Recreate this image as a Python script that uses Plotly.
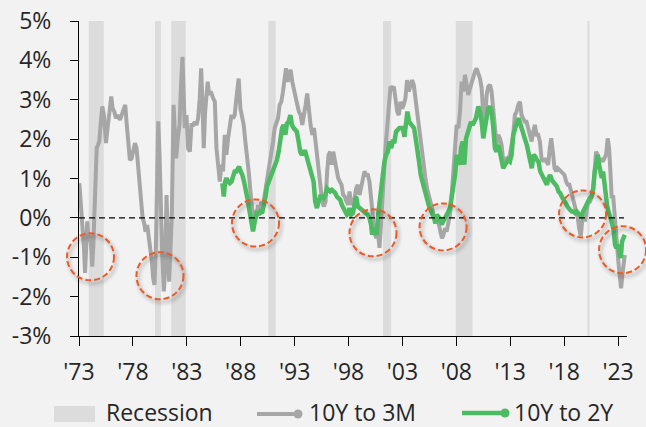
import plotly.graph_objects as go

# ---------------- data ----------------
recession_start = [1973.9, 1980.05, 1981.55, 1990.55, 2001.2, 2007.95, 2020.15]
recession_end = [1975.3, 1980.6, 1982.9, 1991.25, 2001.95, 2009.5, 2020.35]

spread_3m_year = [
    1973.03, 1973.12, 1973.22, 1973.34, 1973.46, 1973.56, 1973.65, 1973.77, 1973.90, 1974.02,
    1974.14, 1974.23, 1974.33, 1974.42, 1974.51, 1974.64, 1974.76, 1974.88, 1975.00, 1975.16,
    1975.31, 1975.50, 1975.65, 1975.84, 1975.99, 1976.12, 1976.27, 1976.43, 1976.61, 1976.80,
    1976.98, 1977.17, 1977.29, 1977.41, 1977.57, 1977.72, 1977.88, 1978.03, 1978.19, 1978.34,
    1978.46, 1978.59, 1978.74, 1978.90, 1979.05, 1979.17, 1979.33, 1979.48, 1979.64, 1979.76,
    1979.88, 1980.00, 1980.13, 1980.25, 1980.35, 1980.47, 1980.59, 1980.72, 1980.87, 1980.99,
    1981.12, 1981.24, 1981.36, 1981.49, 1981.61, 1981.77, 1981.89, 1982.01, 1982.17, 1982.32,
    1982.48, 1982.60, 1982.72, 1982.81, 1982.97, 1983.12, 1983.28, 1983.43, 1983.59, 1983.74,
    1983.90, 1984.05, 1984.20, 1984.33, 1984.45, 1984.57, 1984.70, 1984.82, 1984.94, 1985.07,
    1985.22, 1985.44, 1985.60, 1985.75, 1985.90, 1986.06, 1986.21, 1986.36, 1986.52, 1986.67,
    1986.83, 1986.98, 1987.14, 1987.29, 1987.44, 1987.60, 1987.81, 1987.97, 1988.12, 1988.28,
    1988.43, 1988.59, 1988.74, 1988.90, 1989.05, 1989.17, 1989.30, 1989.45, 1989.60, 1989.76,
    1989.91, 1990.07, 1990.22, 1990.38, 1990.53, 1990.69, 1990.84, 1991.00, 1991.15, 1991.30,
    1991.46, 1991.61, 1991.77, 1991.92, 1992.07, 1992.20, 1992.35, 1992.48, 1992.63, 1992.78,
    1992.94, 1993.09, 1993.25, 1993.40, 1993.56, 1993.71, 1993.86, 1994.02, 1994.17, 1994.33,
    1994.48, 1994.64, 1994.79, 1994.94, 1995.10, 1995.25, 1995.41, 1995.56, 1995.72, 1995.87,
    1996.02, 1996.15, 1996.30, 1996.43, 1996.58, 1996.73, 1996.89, 1997.04, 1997.20, 1997.35,
    1997.51, 1997.66, 1997.81, 1997.97, 1998.09, 1998.25, 1998.40, 1998.56, 1998.71, 1998.86,
    1999.02, 1999.17, 1999.33, 1999.48, 1999.64, 1999.79, 1999.94, 2000.10, 2000.25, 2000.41,
    2000.56, 2000.72, 2000.87, 2000.99, 2001.12, 2001.27, 2001.43, 2001.58, 2001.73, 2001.89,
    2002.04, 2002.20, 2002.35, 2002.51, 2002.66, 2002.82, 2002.97, 2003.12, 2003.28, 2003.43,
    2003.59, 2003.74, 2003.90, 2004.05, 2004.20, 2004.36, 2004.51, 2004.67, 2004.82, 2004.98,
    2005.13, 2005.28, 2005.44, 2005.59, 2005.75, 2005.90, 2006.06, 2006.21, 2006.36, 2006.52,
    2006.67, 2006.80, 2006.95, 2007.10, 2007.26, 2007.41, 2007.57, 2007.72, 2007.88, 2008.03,
    2008.19, 2008.34, 2008.49, 2008.65, 2008.80, 2008.96, 2009.11, 2009.27, 2009.42, 2009.57,
    2009.73, 2009.88, 2010.04, 2010.19, 2010.35, 2010.50, 2010.65, 2010.81, 2010.96, 2011.12,
    2011.27, 2011.43, 2011.58, 2011.73, 2011.89, 2012.04, 2012.20, 2012.35, 2012.51, 2012.66,
    2012.81, 2012.97, 2013.12, 2013.28, 2013.43, 2013.59, 2013.74, 2013.90, 2014.05, 2014.20,
    2014.36, 2014.51, 2014.67, 2014.82, 2014.98, 2015.13, 2015.28, 2015.44, 2015.59, 2015.75,
    2015.90, 2016.06, 2016.21, 2016.36, 2016.52, 2016.67, 2016.80, 2016.95, 2017.11, 2017.26,
    2017.41, 2017.57, 2017.72, 2017.88, 2018.03, 2018.19, 2018.34, 2018.49, 2018.65, 2018.80,
    2018.96, 2019.11, 2019.27, 2019.39, 2019.54, 2019.67, 2019.82, 2019.94, 2020.07, 2020.22,
    2020.38, 2020.53, 2020.69, 2020.81, 2020.96, 2021.12, 2021.27, 2021.43, 2021.58, 2021.73,
    2021.89, 2022.04, 2022.17, 2022.29, 2022.41, 2022.54, 2022.66, 2022.78, 2022.91, 2023.03,
    2023.15, 2023.28, 2023.40, 2023.52, 2023.62,
]
spread_3m_value = [
    0.88, 0.58, 0.08, -0.25, -0.77, -1.40, -0.60, -0.09, -0.60, -0.43,
    -0.77, -1.24, -0.69, 0.25, 0.29, 1.77, 1.85, 1.94, 2.36, 2.83,
    2.61, 1.90, 2.28, 2.70, 3.08, 2.78, 2.70, 2.53, 2.61, 2.49,
    2.61, 2.74, 2.87, 2.44, 1.94, 1.47, 1.51, 1.68, 1.90, 1.77,
    1.43, 0.92, 0.41, 0.00, -0.14, -0.35, -0.18, -0.52, -0.69, -1.11,
    -1.53, -1.70, -0.77, 1.77, 2.45, 1.60, 0.08, -0.94, -1.87, -1.28,
    0.58, -0.77, -1.62, -0.77, 0.08, 2.87, 1.94, 1.51, 2.02, 2.36,
    3.46, 4.09, 3.04, 2.28, 2.61, 1.77, 1.68, 2.36, 2.36, 2.44,
    2.36, 2.53, 3.04, 3.80, 2.95, 1.77, 2.70, 3.21, 3.46, 3.12,
    3.21, 3.04, 2.95, 1.77, 1.43, 0.92, 1.35, 1.18, 2.11, 1.60,
    2.02, 2.36, 2.61, 2.53, 2.61, 3.04, 3.54, 2.78, 2.53, 2.36,
    1.94, 1.60, 1.18, 0.67, 0.25, -0.05, 0.20, 0.00, 0.33, 0.08,
    0.41, 0.33, 0.58, 0.84, 1.09, 1.43, 1.60, 1.94, 2.28, 2.44,
    2.53, 2.87, 2.95, 3.21, 3.46, 3.80, 3.46, 3.63, 3.76, 3.46,
    3.21, 3.04, 2.87, 2.70, 2.61, 2.36, 2.70, 2.87, 3.16, 2.70,
    2.36, 2.11, 2.28, 1.94, 1.51, 1.18, 0.75, 0.41, 0.29, 0.41,
    1.18, 1.60, 1.68, 1.35, 1.68, 1.43, 1.18, 1.01, 0.92, 0.84,
    0.58, 0.54, 0.41, 0.33, 0.67, 0.33, 0.41, 0.50, 0.75, 0.84,
    0.58, 0.75, 0.92, 1.18, 1.09, 1.09, 0.92, 0.58, 0.08, -0.35,
    -0.52, -0.35, -0.76, -0.26, 0.41, 1.09, 1.77, 2.28, 2.95, 3.33,
    3.29, 3.33, 3.04, 2.70, 2.61, 2.95, 2.78, 2.87, 3.04, 3.50,
    3.21, 3.33, 3.50, 3.38, 3.04, 2.61, 2.28, 1.94, 1.51, 1.26,
    1.01, 0.75, 0.58, 0.37, 0.16, 0.08, 0.03, -0.08, -0.14, -0.35,
    -0.52, -0.43, -0.26, -0.35, -0.09, 0.08, 0.58, 1.18, 1.60, 2.36,
    2.28, 2.70, 3.46, 3.21, 3.63, 3.38, 3.12, 3.29, 3.46, 3.54,
    3.71, 3.80, 3.67, 3.54, 3.29, 2.61, 2.44, 3.12, 3.33, 3.38,
    3.21, 2.78, 2.19, 1.85, 2.11, 2.02, 1.85, 1.43, 1.35, 1.51,
    1.51, 1.60, 1.85, 2.11, 2.61, 2.70, 2.87, 2.95, 2.61, 2.53,
    2.44, 2.44, 2.28, 2.11, 1.94, 2.19, 2.36, 2.11, 2.11, 1.94,
    1.51, 1.43, 1.51, 1.43, 1.35, 1.77, 2.02, 1.68, 1.26, 1.18,
    1.26, 1.22, 1.18, 1.13, 1.09, 0.92, 0.84, 0.84, 0.67, 0.50,
    0.33, 0.16, 0.00, -0.26, -0.47, -0.09, 0.08, -0.09, 0.16, 0.41,
    0.41, 0.50, 0.67, 1.18, 1.68, 1.60, 1.43, 1.51, 1.43, 1.51,
    1.60, 2.02, 1.77, 1.18, 0.50, 0.58, 0.16, -0.43, -0.94, -1.11,
    -1.45, -1.79, -1.45, -1.02, -0.94,
]

spread_2y_year = [
    1986.30, 1986.43, 1986.55, 1986.67, 1986.83, 1986.98, 1987.14, 1987.29, 1987.44, 1987.60,
    1987.85, 1988.00, 1988.15, 1988.31, 1988.46, 1988.62, 1988.77, 1988.90, 1989.02, 1989.14,
    1989.27, 1989.39, 1989.51, 1989.67, 1989.82, 1989.98, 1990.13, 1990.28, 1990.44, 1990.59,
    1990.75, 1990.90, 1991.06, 1991.21, 1991.36, 1991.52, 1991.67, 1991.83, 1991.98, 1992.14,
    1992.29, 1992.44, 1992.60, 1992.75, 1992.91, 1993.06, 1993.20, 1993.37, 1993.52, 1993.68,
    1993.83, 1993.99, 1994.14, 1994.30, 1994.45, 1994.60, 1994.76, 1994.91, 1995.07, 1995.22,
    1995.38, 1995.53, 1995.69, 1995.84, 1996.00, 1996.15, 1996.30, 1996.46, 1996.61, 1996.77,
    1996.92, 1997.07, 1997.23, 1997.38, 1997.54, 1997.69, 1997.85, 1998.00, 1998.09, 1998.25,
    1998.40, 1998.56, 1998.71, 1998.86, 1999.02, 1999.17, 1999.33, 1999.48, 1999.64, 1999.79,
    1999.94, 2000.10, 2000.19, 2000.35, 2000.50, 2000.62, 2000.75, 2000.87, 2001.03, 2001.18,
    2001.33, 2001.49, 2001.64, 2001.80, 2001.95, 2002.10, 2002.26, 2002.41, 2002.57, 2002.72,
    2002.88, 2003.03, 2003.19, 2003.34, 2003.46, 2003.62, 2003.77, 2003.93, 2004.08, 2004.23,
    2004.39, 2004.54, 2004.70, 2004.85, 2005.01, 2005.16, 2005.31, 2005.47, 2005.62, 2005.78,
    2005.93, 2006.06, 2006.18, 2006.33, 2006.49, 2006.64, 2006.80, 2006.95, 2007.10, 2007.26,
    2007.41, 2007.57, 2007.72, 2007.88, 2008.03, 2008.19, 2008.34, 2008.43, 2008.59, 2008.74,
    2008.90, 2009.05, 2009.20, 2009.36, 2009.51, 2009.67, 2009.82, 2010.04, 2010.19, 2010.35,
    2010.50, 2010.65, 2010.81, 2010.96, 2011.12, 2011.27, 2011.43, 2011.58, 2011.73, 2011.89,
    2012.04, 2012.20, 2012.35, 2012.51, 2012.66, 2012.81, 2012.97, 2013.12, 2013.28, 2013.43,
    2013.59, 2013.77, 2013.93, 2014.08, 2014.23, 2014.39, 2014.54, 2014.70, 2014.85, 2015.00,
    2015.16, 2015.31, 2015.47, 2015.62, 2015.78, 2015.93, 2016.09, 2016.24, 2016.40, 2016.55,
    2016.70, 2016.86, 2017.01, 2017.17, 2017.32, 2017.48, 2017.63, 2017.78, 2017.94, 2018.09,
    2018.25, 2018.40, 2018.56, 2018.71, 2018.86, 2019.02, 2019.17, 2019.33, 2019.48, 2019.60,
    2019.76, 2019.91, 2020.07, 2020.22, 2020.38, 2020.53, 2020.69, 2020.84, 2021.00, 2021.12,
    2021.24, 2021.36, 2021.49, 2021.61, 2021.73, 2021.86, 2021.98, 2022.10, 2022.23, 2022.35,
    2022.48, 2022.60, 2022.72, 2022.85, 2022.97, 2023.10, 2023.25, 2023.37, 2023.50, 2023.62,
]
spread_2y_value = [
    0.88, 0.54, 0.92, 1.01, 0.92, 0.88, 0.92, 1.09, 1.18, 1.18,
    1.30, 1.18, 1.09, 0.92, 0.75, 0.50, 0.25, 0.08, -0.17, -0.34,
    -0.14, 0.03, 0.16, 0.08, 0.16, 0.12, 0.29, 0.50, 0.80, 0.92,
    1.01, 1.13, 1.22, 1.39, 1.47, 1.68, 2.02, 2.28, 2.36, 2.11,
    2.40, 2.44, 2.61, 2.36, 2.28, 2.23, 2.19, 1.94, 1.68, 1.60,
    1.68, 1.68, 1.51, 1.35, 1.18, 1.01, 0.92, 0.41, 0.25, 0.41,
    0.54, 0.54, 0.50, 0.58, 0.75, 0.71, 0.67, 0.71, 0.67, 0.63,
    0.54, 0.50, 0.46, 0.33, 0.25, 0.16, 0.08, 0.12, 0.25, 0.08,
    0.12, 0.33, 0.54, 0.29, 0.25, 0.20, 0.16, 0.16, 0.12, 0.08,
    0.00, -0.18, -0.43, -0.26, -0.35, -0.43, 0.08, 0.41, 0.67, 1.09,
    1.43, 1.60, 1.68, 1.94, 1.77, 1.94, 1.94, 2.19, 2.23, 2.28,
    2.28, 2.28, 2.06, 2.61, 2.70, 2.44, 2.40, 2.36, 2.28, 2.02,
    1.77, 1.43, 1.09, 0.92, 0.75, 0.54, 0.41, 0.29, 0.20, 0.12,
    0.00, -0.14, 0.08, 0.03, -0.04, -0.17, -0.09, -0.05, 0.03, 0.16,
    0.25, 0.54, 0.84, 1.09, 1.60, 1.43, 1.35, 1.77, 1.94, 1.35,
    2.02, 2.15, 2.36, 2.44, 2.36, 2.44, 2.53, 2.83, 2.70, 2.44,
    2.02, 2.28, 2.61, 2.78, 2.83, 2.70, 2.28, 1.77, 1.68, 1.85,
    1.68, 1.51, 1.26, 1.35, 1.43, 1.47, 1.43, 1.60, 2.11, 2.28,
    2.40, 2.53, 2.36, 2.23, 2.11, 1.98, 1.85, 1.64, 1.35, 1.26,
    1.60, 1.56, 1.47, 1.43, 1.18, 1.09, 1.01, 0.92, 0.84, 1.01,
    1.09, 0.96, 0.92, 0.88, 0.80, 0.67, 0.63, 0.54, 0.46, 0.37,
    0.29, 0.25, 0.20, 0.16, 0.16, 0.12, 0.16, 0.12, 0.08, 0.03,
    0.16, 0.25, 0.33, 0.46, 0.50, 0.54, 0.75, 1.18, 1.51, 1.60,
    1.35, 1.18, 1.01, 1.18, 0.84, 0.58, 0.33, 0.16, 0.08, -0.04,
    -0.18, -0.34, -0.68, -0.77, -0.68, -0.85, -1.02, -0.60, -0.47, -0.43,
]

tick_years = [1973, 1978, 1983, 1988, 1993, 1998, 2003, 2008, 2013, 2018, 2023]
tick_labels = ["'73", "'78", "'83", "'88", "'93", "'98", "'03", "'08", "'13", "'18", "'23"]
y_tick_values = [-3, -2, -1, 0, 1, 2, 3, 4, 5]
y_tick_labels = ["-3%", "-2%", "-1%", "0%", "1%", "2%", "3%", "4%", "5%"]

# inversion highlights: centre (year, value)
inversion_year = [1974.07, 1980.51, 1989.37, 2000.27, 2006.77, 2019.71, 2023.42]
inversion_value = [-0.99, -1.47, -0.13, -0.38, -0.23, 0.10, -0.81]

legend_labels = ["Recession", "10Y to 3M", "10Y to 2Y"]

# ---------------- styling ----------------
W, H = 646, 427
ML, MR, MT, MB = 79, 19, 21, 91
PW, PH = W - ML - MR, H - MT - MB
X0, X1 = 1973.0, 2023.83
Y0, Y1 = -3.0, 5.0
BG = "#f2f2f2"
GRAY = "#a6a6a6"
GREEN = "#4dbb62"
REC = "#dcdcdc"
RED = "#ee5a24"
TXT = "#262626"
FONT = "Open Sans"
FS = 23


def px_x(px):
    return (px - ML) / PW


def px_y(py):
    return (MT + PH - py) / PH


def dom_x(year):
    return (year - X0) / (X1 - X0)


def dom_y(v):
    return (v - Y0) / (Y1 - Y0)


fig = go.Figure()

fig.add_trace(go.Scatter(x=spread_3m_year, y=spread_3m_value, mode="lines",
                         line=dict(color=GRAY, width=4), name=legend_labels[1],
                         showlegend=False, hoverinfo="skip"))
fig.add_trace(go.Scatter(x=spread_2y_year, y=spread_2y_value, mode="lines",
                         line=dict(color=GREEN, width=4.5), name=legend_labels[2],
                         showlegend=False, hoverinfo="skip"))

shapes = []
for s, e in zip(recession_start, recession_end):
    shapes.append(dict(type="rect", xref="x", yref="paper", x0=s, x1=e, y0=0, y1=1,
                       fillcolor=REC, line=dict(width=0), layer="below"))

shapes.append(dict(type="line", xref="x", yref="y", x0=X0, x1=2023.55, y0=0, y1=0,
                   line=dict(color="black", width=1.2, dash="6px,4px")))

R = 23.5
for yr, v in zip(inversion_year, inversion_value):
    cx, cy = dom_x(yr), dom_y(v)
    rx, ry = R / PW, R / PH
    # soft shadow
    for w, a in [(9, 0.025), (6, 0.035), (3, 0.05)]:
        ox, oy = 2 / PW, -3 / PH
        shapes.append(dict(type="circle", xref="paper", yref="paper",
                           x0=cx - rx + ox, x1=cx + rx + ox, y0=cy - ry + oy, y1=cy + ry + oy,
                           line=dict(color=f"rgba(0,0,0,{a})", width=w)))
    shapes.append(dict(type="circle", xref="paper", yref="paper",
                       x0=cx - rx, x1=cx + rx, y0=cy - ry, y1=cy + ry,
                       line=dict(color=RED, width=2, dash="6px,3px")))

# custom legend
shapes.append(dict(type="rect", xref="paper", yref="paper",
                   x0=px_x(54), x1=px_x(95), y0=px_y(422), y1=px_y(406),
                   fillcolor=REC, line=dict(width=0)))
for (lx0, lx1, ly, col, lw) in [(257, 298, 414, GRAY, 4), (462, 505, 413, GREEN, 4.5)]:
    shapes.append(dict(type="line", xref="paper", yref="paper",
                       x0=px_x(lx0), x1=px_x(lx1), y0=px_y(ly), y1=px_y(ly),
                       line=dict(color=col, width=lw)))
    mr = 4.5
    shapes.append(dict(type="circle", xref="paper", yref="paper",
                       x0=px_x(lx1 - mr), x1=px_x(lx1 + mr), y0=px_y(ly + mr), y1=px_y(ly - mr),
                       fillcolor=col, line=dict(width=0)))

annotations = []
for label, lx in zip(legend_labels, [105, 308, 513]):
    annotations.append(dict(text=label, xref="paper", yref="paper", x=px_x(lx), y=px_y(411.5),
                            xanchor="left", yanchor="middle", showarrow=False, borderpad=0,
                            font=dict(family=FONT, size=FS, color=TXT)))

fig.update_layout(
    width=W, height=H,
    margin=dict(l=ML, r=MR, t=MT, b=MB, autoexpand=False),
    paper_bgcolor=BG, plot_bgcolor=BG,
    shapes=shapes, annotations=annotations,
    showlegend=False,
    font=dict(family=FONT, size=FS, color=TXT),
)
fig.update_xaxes(range=[X0, X1], tickvals=tick_years, ticktext=tick_labels,
                 showline=True, linecolor="black", linewidth=1,
                 ticks="outside", ticklen=9, tickcolor="black", tickwidth=1,
                 showgrid=False, zeroline=False, ticklabelstandoff=6, automargin=False,
                 tickfont=dict(family=FONT, size=FS, color=TXT))
fig.update_yaxes(range=[Y0, Y1], tickvals=y_tick_values, ticktext=y_tick_labels,
                 showline=True, linecolor="black", linewidth=1,
                 ticks="outside", ticklen=8, tickcolor="black", tickwidth=1,
                 showgrid=False, zeroline=False, ticklabelstandoff=14, automargin=False,
                 tickfont=dict(family=FONT, size=FS, color=TXT))

fig.write_html("out.html", config={"displayModeBar": False},
               post_script="document.body.style.margin='0';document.body.style.background='#f2f2f2';")
